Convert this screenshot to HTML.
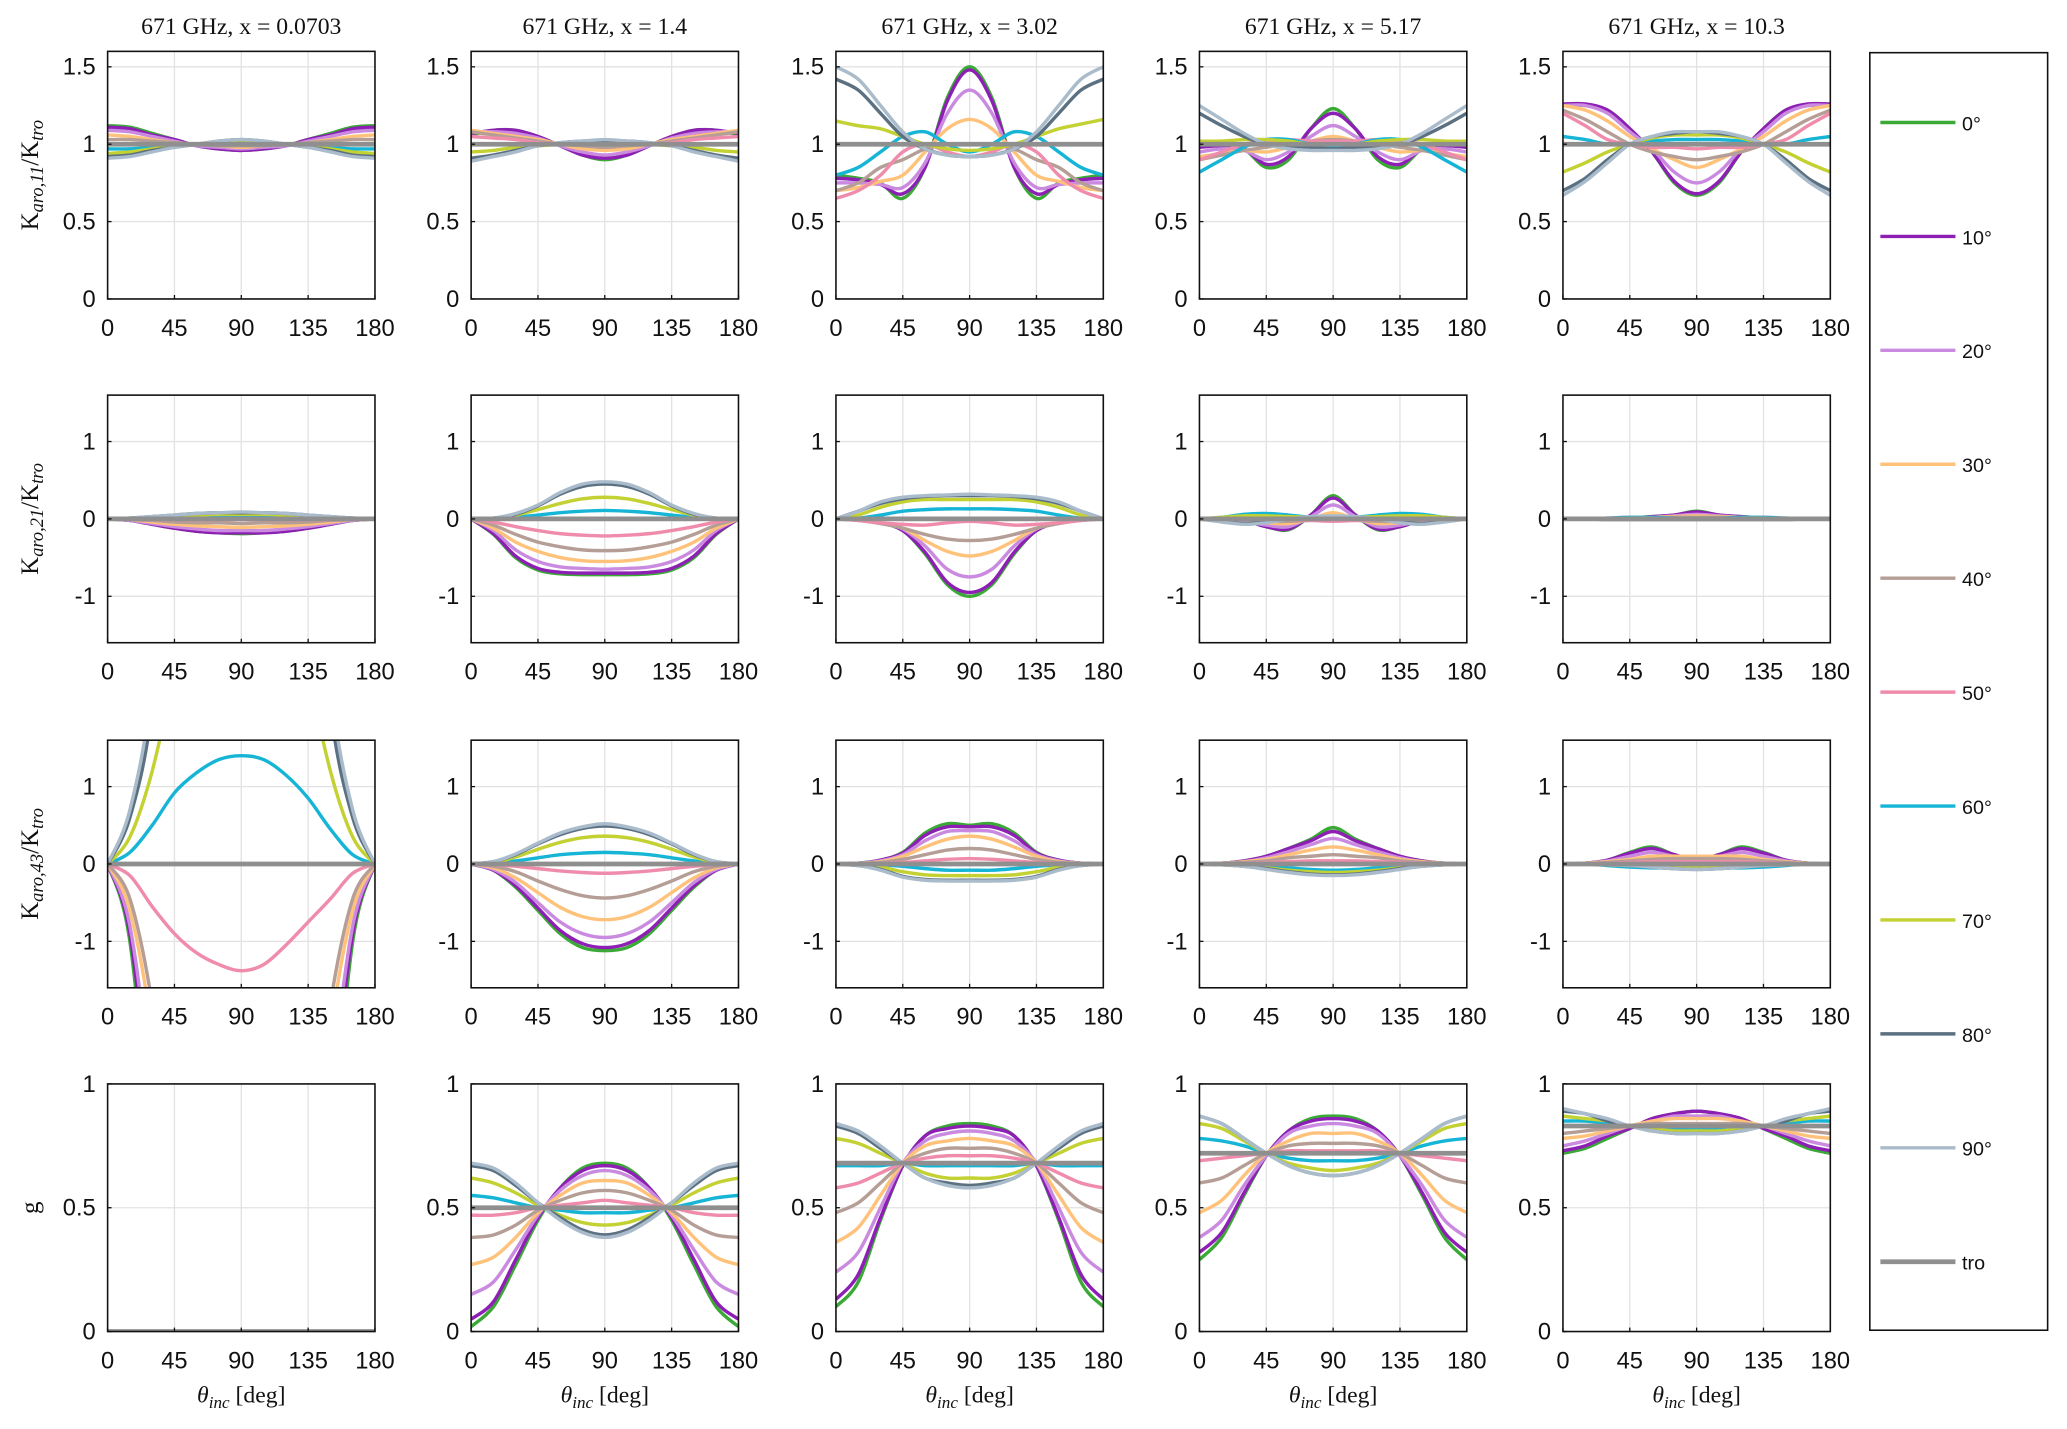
<!DOCTYPE html>
<html><head><meta charset="utf-8">
<style>
html,body{margin:0;padding:0;background:#fff;width:2067px;height:1429px;overflow:hidden;}
svg{display:block;}
.tk{font-family:"Liberation Sans",sans-serif;font-size:18px;fill:#111;}
.tt{font-family:"Liberation Serif",serif;font-size:18px;fill:#111;}
.yt{font-family:"Liberation Serif",serif;font-size:19px;fill:#111;}
.lg{font-family:"Liberation Sans",sans-serif;font-size:15px;fill:#111;}
</style></head>
<body>
<svg id="fig" width="2067" height="1429" viewBox="0 0 1568 1085" xmlns="http://www.w3.org/2000/svg"></svg>
<script>
const thetaDeg=[0,15,30,45,60,75,90,105,120,135,150,165,180];
const seriesNames=["0°","10°","20°","30°","40°","50°","60°","70°","80°","90°","tro"];
const seriesColors=["#3aa935","#8e1fb5","#c98ae0","#ffc27a","#b59e96","#f08cab","#16b5d6","#c3d132","#5b7182","#aabccb","#8f8f8f"];
const colTitles=["671 GHz, x = 0.0703","671 GHz, x = 1.4","671 GHz, x = 3.02","671 GHz, x = 5.17","671 GHz, x = 10.3"];
const rowYTicks=[[0,0.5,1,1.5],[-1,0,1],[-1,0,1],[0,0.5,1]];
const rowYTickLabels=[["0","0.5","1","1.5"],["-1","0","1"],["-1","0","1"],["0","0.5","1"]];
const rowYLim=[[0,1.6],[-1.6,1.6],[-1.6,1.6],[0,1]];
const xTicks=[0,45,90,135,180];
const T1=[1,1,1,1,1,1,1,1,1,1,1,1,1];
const T0=[0,0,0,0,0,0,0,0,0,0,0,0,0];

const r1c1=[
[1.12,1.11,1.07,1.03,0.99,0.97,0.96,0.97,0.99,1.03,1.07,1.11,1.12],
[1.11,1.10,1.06,1.03,0.99,0.97,0.96,0.97,0.99,1.03,1.06,1.10,1.11],
[1.09,1.08,1.05,1.02,0.99,0.98,0.97,0.98,0.99,1.02,1.05,1.08,1.09],
[1.06,1.05,1.03,1.01,1.00,0.99,0.98,0.99,1.00,1.01,1.03,1.05,1.06],
[1.03,1.03,1.02,1.01,1.00,0.99,0.99,0.99,1.00,1.01,1.02,1.03,1.03],
[1.00,1.00,1.00,1.00,1.00,1.00,1.00,1.00,1.00,1.00,1.00,1.00,1.00],
[0.97,0.97,0.98,0.99,1.00,1.01,1.01,1.01,1.00,0.99,0.98,0.97,0.97],
[0.94,0.95,0.97,0.99,1.00,1.01,1.02,1.01,1.00,0.99,0.97,0.95,0.94],
[0.92,0.93,0.96,0.98,1.00,1.02,1.03,1.02,1.00,0.98,0.96,0.93,0.92],
[0.91,0.92,0.95,0.98,1.00,1.02,1.03,1.02,1.00,0.98,0.95,0.92,0.91],
T1];
const r1c2=[
[1.06,1.09,1.09,1.05,0.99,0.93,0.90,0.93,0.99,1.05,1.09,1.09,1.06],
[1.07,1.09,1.09,1.05,0.99,0.93,0.91,0.93,0.99,1.05,1.09,1.09,1.07],
[1.08,1.08,1.07,1.04,0.99,0.95,0.93,0.95,0.99,1.04,1.07,1.08,1.08],
[1.09,1.07,1.05,1.03,1.00,0.97,0.96,0.97,1.00,1.03,1.05,1.07,1.09],
[1.08,1.06,1.04,1.02,1.00,0.99,0.98,0.99,1.00,1.02,1.04,1.06,1.08],
[1.05,1.04,1.03,1.01,1.00,1.00,1.00,1.00,1.00,1.01,1.03,1.04,1.05],
[1.00,1.00,1.00,1.00,1.00,1.01,1.01,1.01,1.00,1.00,1.00,1.00,1.00],
[0.95,0.96,0.98,0.99,1.00,1.01,1.02,1.01,1.00,0.99,0.98,0.96,0.95],
[0.91,0.93,0.96,0.99,1.01,1.02,1.02,1.02,1.01,0.99,0.96,0.93,0.91],
[0.89,0.92,0.95,0.99,1.01,1.02,1.03,1.02,1.01,0.99,0.95,0.92,0.89],
T1];
const r1c3=[
[0.80,0.78,0.75,0.65,0.85,1.30,1.50,1.30,0.85,0.65,0.75,0.78,0.80],
[0.78,0.77,0.74,0.68,0.85,1.28,1.48,1.28,0.85,0.68,0.74,0.77,0.78],
[0.75,0.75,0.74,0.72,0.88,1.20,1.35,1.20,0.88,0.72,0.74,0.75,0.75],
[0.70,0.72,0.76,0.80,0.95,1.10,1.16,1.10,0.95,0.80,0.76,0.72,0.70],
[0.70,0.75,0.85,0.90,0.97,1.00,1.00,1.00,0.97,0.90,0.85,0.75,0.70],
[0.65,0.70,0.80,0.95,1.00,0.95,0.92,0.95,1.00,0.95,0.80,0.70,0.65],
[0.80,0.85,0.95,1.05,1.08,1.00,0.95,1.00,1.08,1.05,0.95,0.85,0.80],
[1.15,1.12,1.10,1.05,1.00,0.97,0.96,0.97,1.00,1.05,1.10,1.13,1.16],
[1.42,1.35,1.20,1.05,0.97,0.93,0.92,0.93,0.97,1.05,1.20,1.35,1.42],
[1.50,1.42,1.25,1.08,0.97,0.93,0.92,0.93,0.97,1.08,1.25,1.42,1.50],
T1];
const r1c4=[
[1.00,1.00,0.97,0.85,0.90,1.10,1.23,1.10,0.90,0.85,0.97,1.00,1.00],
[0.98,0.99,0.97,0.87,0.92,1.10,1.20,1.10,0.92,0.87,0.97,0.99,0.98],
[0.95,0.97,0.96,0.90,0.95,1.05,1.12,1.05,0.95,0.90,0.96,0.97,0.95],
[0.92,0.94,0.96,0.95,0.98,1.02,1.05,1.02,0.98,0.95,0.96,0.94,0.92],
[0.90,0.93,0.96,0.98,1.00,1.02,1.03,1.02,1.00,0.98,0.96,0.93,0.90],
[0.90,0.95,1.00,1.02,1.03,1.02,1.02,1.02,1.03,1.02,1.00,0.95,0.90],
[0.82,0.90,0.98,1.03,1.03,1.00,0.98,1.00,1.03,1.03,0.98,0.90,0.82],
[1.02,1.02,1.03,1.03,1.02,1.00,1.00,1.00,1.02,1.03,1.03,1.02,1.02],
[1.20,1.12,1.05,1.00,0.98,0.98,0.97,0.98,0.98,1.00,1.05,1.12,1.20],
[1.25,1.16,1.07,1.00,0.97,0.96,0.96,0.96,0.97,1.00,1.07,1.16,1.25],
T1];
const r1c5=[
[1.25,1.25,1.22,1.10,0.95,0.75,0.67,0.75,0.95,1.10,1.22,1.25,1.25],
[1.26,1.26,1.22,1.10,0.95,0.76,0.68,0.76,0.95,1.10,1.22,1.26,1.26],
[1.25,1.25,1.20,1.08,0.97,0.82,0.75,0.82,0.97,1.08,1.20,1.25,1.25],
[1.25,1.22,1.15,1.05,0.97,0.90,0.85,0.90,0.97,1.05,1.15,1.22,1.25],
[1.22,1.16,1.08,1.00,0.95,0.92,0.90,0.92,0.95,1.00,1.08,1.16,1.22],
[1.20,1.12,1.03,1.00,0.98,0.98,0.97,0.98,0.98,1.00,1.03,1.12,1.20],
[1.05,1.03,1.00,1.00,1.02,1.03,1.03,1.03,1.02,1.00,1.00,1.03,1.05],
[0.82,0.88,0.95,1.00,1.04,1.06,1.06,1.06,1.04,1.00,0.95,0.88,0.82],
[0.70,0.78,0.90,1.00,1.05,1.07,1.08,1.07,1.05,1.00,0.90,0.78,0.70],
[0.67,0.76,0.88,1.00,1.05,1.08,1.08,1.08,1.05,1.00,0.88,0.76,0.67],
T1];
const r2c1=[
[0,-0.02,-0.07,-0.12,-0.16,-0.18,-0.19,-0.18,-0.16,-0.12,-0.07,-0.02,0],
[0,-0.02,-0.07,-0.12,-0.16,-0.18,-0.18,-0.18,-0.16,-0.12,-0.07,-0.02,0],
[0,-0.02,-0.06,-0.10,-0.13,-0.15,-0.15,-0.15,-0.13,-0.10,-0.06,-0.02,0],
[0,-0.01,-0.04,-0.07,-0.09,-0.10,-0.11,-0.10,-0.09,-0.07,-0.04,-0.01,0],
[0,-0.01,-0.02,-0.04,-0.05,-0.05,-0.06,-0.05,-0.05,-0.04,-0.02,-0.01,0],
[0,0,-0.01,-0.01,-0.01,-0.01,-0.01,-0.01,-0.01,-0.01,-0.01,0,0],
[0,0,0.01,0.02,0.02,0.03,0.03,0.03,0.02,0.02,0.01,0,0],
[0,0.01,0.02,0.04,0.05,0.06,0.06,0.06,0.05,0.04,0.02,0.01,0],
[0,0.01,0.03,0.05,0.07,0.08,0.08,0.08,0.07,0.05,0.03,0.01,0],
[0,0.01,0.03,0.05,0.07,0.08,0.09,0.08,0.07,0.05,0.03,0.01,0],
T0];
const r2c2=[
[0,-0.20,-0.50,-0.66,-0.71,-0.72,-0.72,-0.72,-0.71,-0.66,-0.50,-0.20,0],
[0,-0.19,-0.48,-0.64,-0.69,-0.70,-0.70,-0.70,-0.69,-0.64,-0.48,-0.19,0],
[0,-0.15,-0.40,-0.55,-0.62,-0.64,-0.65,-0.64,-0.62,-0.55,-0.40,-0.15,0],
[0,-0.12,-0.30,-0.42,-0.50,-0.54,-0.55,-0.54,-0.50,-0.42,-0.30,-0.12,0],
[0,-0.08,-0.20,-0.30,-0.36,-0.40,-0.41,-0.40,-0.36,-0.30,-0.20,-0.08,0],
[0,-0.04,-0.10,-0.15,-0.19,-0.21,-0.22,-0.21,-0.19,-0.15,-0.10,-0.04,0],
[0,0,0.02,0.05,0.08,0.10,0.11,0.10,0.08,0.05,0.02,0,0],
[0,0.01,0.05,0.12,0.20,0.26,0.28,0.26,0.20,0.12,0.05,0.01,0],
[0,0.01,0.06,0.17,0.32,0.42,0.45,0.42,0.32,0.17,0.06,0.01,0],
[0,0.01,0.07,0.18,0.34,0.45,0.48,0.45,0.34,0.18,0.07,0.01,0],
T0];
const r2c3=[
[0,-0.01,-0.05,-0.15,-0.45,-0.85,-1.00,-0.85,-0.45,-0.15,-0.05,-0.01,0],
[0,-0.01,-0.05,-0.15,-0.43,-0.82,-0.95,-0.82,-0.43,-0.15,-0.05,-0.01,0],
[0,-0.01,-0.05,-0.13,-0.35,-0.65,-0.75,-0.65,-0.35,-0.13,-0.05,-0.01,0],
[0,-0.01,-0.05,-0.12,-0.28,-0.42,-0.48,-0.42,-0.28,-0.12,-0.05,-0.01,0],
[0,-0.02,-0.06,-0.12,-0.20,-0.26,-0.28,-0.26,-0.20,-0.12,-0.06,-0.02,0],
[0,-0.02,-0.05,-0.07,-0.08,-0.05,-0.03,-0.05,-0.08,-0.07,-0.05,-0.02,0],
[0,0.01,0.05,0.10,0.12,0.13,0.13,0.13,0.12,0.10,0.05,0.01,0],
[0,0.05,0.15,0.22,0.25,0.25,0.25,0.25,0.25,0.22,0.15,0.05,0],
[0,0.10,0.20,0.26,0.29,0.30,0.30,0.30,0.29,0.26,0.20,0.10,0],
[0,0.10,0.22,0.28,0.30,0.31,0.32,0.31,0.30,0.28,0.22,0.10,0],
T0];
const r2c4=[
[0,0,-0.02,-0.10,-0.14,0.05,0.30,0.05,-0.14,-0.10,-0.02,0,0],
[0,0,-0.02,-0.10,-0.13,0.05,0.27,0.05,-0.13,-0.10,-0.02,0,0],
[0,0,-0.02,-0.08,-0.10,0.03,0.18,0.03,-0.10,-0.08,-0.02,0,0],
[0,0,-0.01,-0.05,-0.06,0,0.08,0,-0.06,-0.05,-0.01,0,0],
[0,0,-0.01,-0.03,-0.03,-0.02,0,-0.02,-0.03,-0.03,-0.01,0,0],
[0,0,0,0,-0.01,-0.02,-0.03,-0.02,-0.01,0,0,0,0],
[0,0.02,0.06,0.07,0.05,0.02,0,0.02,0.05,0.07,0.06,0.02,0],
[0,0.02,0.04,0.04,0.03,0.02,0.02,0.02,0.03,0.04,0.04,0.02,0],
[0,-0.03,-0.06,-0.04,0,0.02,0.03,0.02,0,-0.04,-0.06,-0.03,0],
[0,-0.04,-0.07,-0.05,0,0.03,0.04,0.03,0,-0.05,-0.07,-0.04,0],
T0];
const r2c5=[
[0,0,0,0.01,0.03,0.05,0.10,0.05,0.03,0.01,0,0,0],
[0,0,0,0.01,0.03,0.05,0.09,0.05,0.03,0.01,0,0,0],
[0,0,0,0.01,0.02,0.04,0.06,0.04,0.02,0.01,0,0,0],
[0,0,0,0.01,0.02,0.03,0.04,0.03,0.02,0.01,0,0,0],
[0,0,0,0,0.01,0.02,0.02,0.02,0.01,0,0,0,0],
[0,0,0.01,0.02,0.02,0.01,0,0.01,0.02,0.02,0.01,0,0],
[0,0,0.01,0.02,0.02,0.01,0,0.01,0.02,0.02,0.01,0,0],
[0,0,0,0.01,0.01,0,-0.01,0,0.01,0.01,0,0,0],
[0,0,-0.01,-0.01,-0.01,-0.01,-0.01,-0.01,-0.01,-0.01,-0.01,0,0],
[0,0,-0.01,-0.01,-0.01,-0.01,-0.01,-0.01,-0.01,-0.01,-0.01,0,0],
T0];
const r3c1=[
[0,-1.0,-4.0,-8.0,-10,-11,-11,-11,-10,-8.0,-4.0,-1.0,0],
[0,-0.9,-3.5,-7.0,-9,-10,-10,-10,-9,-7.0,-3.5,-0.9,0],
[0,-0.8,-3.0,-6.0,-8,-9,-9,-9,-8,-6.0,-3.0,-0.8,0],
[0,-0.6,-2.2,-5.0,-7,-8,-8,-8,-7,-5.0,-2.2,-0.6,0],
[0,-0.45,-1.8,-4.0,-6,-7,-7,-7,-6,-4.0,-1.8,-0.45,0],
[0,-0.15,-0.55,-0.9,-1.15,-1.3,-1.38,-1.3,-1.05,-0.75,-0.45,-0.12,0],
[0,0.15,0.5,0.92,1.18,1.35,1.4,1.35,1.15,0.85,0.45,0.12,0],
[0,0.35,1.2,2.5,4,5,5,5,4,2.5,1.2,0.35,0],
[0,0.6,2.0,5.0,7,8,8,8,7,5.0,2.0,0.6,0],
[0,0.7,2.3,5.5,8,9,9,9,8,5.5,2.3,0.7,0],
T0];
const r3c2=[
[0,-0.08,-0.30,-0.60,-0.90,-1.08,-1.12,-1.08,-0.90,-0.60,-0.30,-0.08,0],
[0,-0.08,-0.28,-0.57,-0.86,-1.03,-1.08,-1.03,-0.86,-0.57,-0.28,-0.08,0],
[0,-0.07,-0.24,-0.50,-0.75,-0.90,-0.95,-0.90,-0.75,-0.50,-0.24,-0.07,0],
[0,-0.05,-0.18,-0.37,-0.56,-0.68,-0.72,-0.68,-0.56,-0.37,-0.18,-0.05,0],
[0,-0.03,-0.10,-0.22,-0.33,-0.41,-0.44,-0.41,-0.33,-0.22,-0.10,-0.03,0],
[0,-0.01,-0.03,-0.06,-0.09,-0.11,-0.12,-0.11,-0.09,-0.06,-0.03,-0.01,0],
[0,0.01,0.04,0.08,0.12,0.14,0.15,0.14,0.12,0.08,0.04,0.01,0],
[0,0.02,0.09,0.19,0.28,0.34,0.36,0.34,0.28,0.19,0.09,0.02,0],
[0,0.03,0.12,0.26,0.38,0.46,0.49,0.46,0.38,0.26,0.12,0.03,0],
[0,0.03,0.13,0.27,0.40,0.48,0.52,0.48,0.40,0.27,0.13,0.03,0],
T0];
const r3c3=[
[0,0.01,0.05,0.15,0.40,0.52,0.50,0.52,0.40,0.15,0.05,0.01,0],
[0,0.01,0.05,0.14,0.37,0.48,0.48,0.48,0.37,0.14,0.05,0.01,0],
[0,0.01,0.04,0.12,0.30,0.42,0.43,0.42,0.30,0.12,0.04,0.01,0],
[0,0.01,0.03,0.10,0.22,0.32,0.36,0.32,0.22,0.10,0.03,0.01,0],
[0,0.01,0.02,0.06,0.12,0.18,0.20,0.18,0.12,0.06,0.02,0.01,0],
[0,0,0.01,0.02,0.04,0.06,0.07,0.06,0.04,0.02,0.01,0,0],
[0,0,-0.01,-0.03,-0.06,-0.08,-0.08,-0.08,-0.06,-0.03,-0.01,0,0],
[0,-0.01,-0.04,-0.10,-0.14,-0.15,-0.15,-0.15,-0.14,-0.10,-0.04,-0.01,0],
[0,-0.02,-0.07,-0.16,-0.20,-0.21,-0.21,-0.21,-0.20,-0.16,-0.07,-0.02,0],
[0,-0.02,-0.08,-0.17,-0.21,-0.22,-0.22,-0.22,-0.21,-0.17,-0.08,-0.02,0],
T0];
const r3c4=[
[0,0.01,0.04,0.10,0.20,0.32,0.47,0.32,0.20,0.10,0.04,0.01,0],
[0,0.01,0.04,0.10,0.20,0.30,0.42,0.30,0.20,0.10,0.04,0.01,0],
[0,0.01,0.03,0.08,0.16,0.25,0.33,0.25,0.16,0.08,0.03,0.01,0],
[0,0.01,0.03,0.06,0.12,0.18,0.22,0.18,0.12,0.06,0.03,0.01,0],
[0,0.01,0.02,0.04,0.08,0.10,0.12,0.10,0.08,0.04,0.02,0.01,0],
[0,0,0.01,0.02,0.03,0.04,0.04,0.04,0.03,0.02,0.01,0,0],
[0,0,-0.01,-0.03,-0.05,-0.07,-0.08,-0.07,-0.05,-0.03,-0.01,0,0],
[0,0,-0.02,-0.05,-0.08,-0.10,-0.11,-0.10,-0.08,-0.05,-0.02,0,0],
[0,-0.01,-0.03,-0.06,-0.10,-0.13,-0.14,-0.13,-0.10,-0.06,-0.03,-0.01,0],
[0,-0.01,-0.03,-0.07,-0.11,-0.14,-0.15,-0.14,-0.11,-0.07,-0.03,-0.01,0],
T0];
const r3c5=[
[0,0.01,0.05,0.15,0.22,0.12,0.05,0.12,0.22,0.15,0.05,0.01,0],
[0,0.01,0.05,0.14,0.20,0.12,0.06,0.12,0.20,0.14,0.05,0.01,0],
[0,0.01,0.04,0.10,0.15,0.10,0.07,0.10,0.15,0.10,0.04,0.01,0],
[0,0.01,0.03,0.06,0.10,0.10,0.10,0.10,0.10,0.06,0.03,0.01,0],
[0,0,0.02,0.04,0.06,0.07,0.07,0.07,0.06,0.04,0.02,0,0],
[0,0,0.01,0.02,0.03,0.03,0.03,0.03,0.03,0.02,0.01,0,0],
[0,0,-0.02,-0.04,-0.05,-0.05,-0.05,-0.05,-0.05,-0.04,-0.02,0,0],
[0,0,-0.01,-0.02,-0.03,-0.04,-0.04,-0.04,-0.03,-0.02,-0.01,0,0],
[0,0,-0.01,-0.02,-0.04,-0.06,-0.07,-0.06,-0.04,-0.02,-0.01,0,0],
[0,0,-0.01,-0.02,-0.04,-0.06,-0.07,-0.06,-0.04,-0.02,-0.01,0,0],
T0];
const r4c1=[T0,T0,T0,T0,T0,T0,T0,T0,T0,T0,T0];
const r4c2=[
[0.02,0.10,0.27,0.45,0.58,0.66,0.68,0.66,0.58,0.45,0.27,0.10,0.02],
[0.05,0.12,0.29,0.46,0.58,0.65,0.67,0.65,0.58,0.46,0.29,0.12,0.05],
[0.15,0.20,0.33,0.47,0.57,0.63,0.65,0.63,0.57,0.47,0.33,0.20,0.15],
[0.27,0.30,0.38,0.48,0.55,0.60,0.61,0.60,0.55,0.48,0.38,0.30,0.27],
[0.38,0.39,0.43,0.49,0.53,0.56,0.57,0.56,0.53,0.49,0.43,0.39,0.38],
[0.47,0.47,0.48,0.50,0.51,0.52,0.53,0.52,0.51,0.50,0.48,0.47,0.47],
[0.55,0.54,0.52,0.50,0.49,0.48,0.48,0.48,0.49,0.50,0.52,0.54,0.55],
[0.62,0.60,0.56,0.51,0.47,0.44,0.43,0.44,0.47,0.51,0.56,0.60,0.62],
[0.67,0.65,0.59,0.52,0.46,0.41,0.39,0.41,0.46,0.52,0.59,0.65,0.67],
[0.68,0.66,0.60,0.52,0.45,0.40,0.38,0.40,0.45,0.52,0.60,0.66,0.68],
[0.5,0.5,0.5,0.5,0.5,0.5,0.5,0.5,0.5,0.5,0.5,0.5,0.5]];
const r4c3=[
[0.10,0.20,0.45,0.67,0.79,0.83,0.84,0.83,0.79,0.67,0.45,0.20,0.10],
[0.13,0.23,0.46,0.67,0.79,0.82,0.83,0.82,0.79,0.67,0.46,0.23,0.13],
[0.24,0.32,0.50,0.68,0.77,0.80,0.81,0.80,0.77,0.68,0.50,0.32,0.24],
[0.36,0.42,0.55,0.68,0.75,0.77,0.78,0.77,0.75,0.68,0.55,0.42,0.36],
[0.48,0.52,0.60,0.68,0.72,0.74,0.74,0.74,0.72,0.68,0.60,0.52,0.48],
[0.58,0.60,0.64,0.68,0.70,0.71,0.71,0.71,0.70,0.68,0.64,0.60,0.58],
[0.67,0.67,0.67,0.68,0.67,0.67,0.67,0.67,0.67,0.68,0.67,0.67,0.67],
[0.78,0.76,0.72,0.68,0.64,0.62,0.62,0.62,0.64,0.68,0.72,0.76,0.78],
[0.83,0.80,0.74,0.68,0.62,0.60,0.59,0.60,0.62,0.68,0.74,0.80,0.83],
[0.84,0.81,0.75,0.68,0.62,0.59,0.58,0.59,0.62,0.68,0.75,0.81,0.84],
[0.68,0.68,0.68,0.68,0.68,0.68,0.68,0.68,0.68,0.68,0.68,0.68,0.68]];
const r4c4=[
[0.29,0.38,0.55,0.71,0.81,0.86,0.87,0.86,0.81,0.71,0.55,0.38,0.29],
[0.32,0.40,0.56,0.71,0.81,0.85,0.86,0.85,0.81,0.71,0.56,0.40,0.32],
[0.38,0.45,0.59,0.71,0.80,0.83,0.84,0.83,0.80,0.71,0.59,0.45,0.38],
[0.48,0.53,0.63,0.72,0.77,0.80,0.80,0.80,0.77,0.72,0.63,0.53,0.48],
[0.60,0.62,0.67,0.72,0.75,0.76,0.76,0.76,0.75,0.72,0.67,0.62,0.60],
[0.69,0.70,0.71,0.72,0.73,0.73,0.73,0.73,0.73,0.72,0.71,0.70,0.69],
[0.78,0.77,0.75,0.72,0.70,0.69,0.69,0.69,0.70,0.72,0.75,0.77,0.78],
[0.84,0.82,0.77,0.72,0.68,0.66,0.65,0.66,0.68,0.72,0.77,0.82,0.84],
[0.87,0.84,0.78,0.72,0.67,0.64,0.63,0.64,0.67,0.72,0.78,0.84,0.87],
[0.87,0.84,0.78,0.72,0.67,0.64,0.63,0.64,0.67,0.72,0.78,0.84,0.87],
[0.72,0.72,0.72,0.72,0.72,0.72,0.72,0.72,0.72,0.72,0.72,0.72,0.72]];
const r4c5=[
[0.72,0.74,0.78,0.82,0.86,0.88,0.89,0.88,0.86,0.82,0.78,0.74,0.72],
[0.73,0.75,0.79,0.82,0.86,0.88,0.89,0.88,0.86,0.82,0.79,0.75,0.73],
[0.75,0.77,0.80,0.83,0.85,0.87,0.87,0.87,0.85,0.83,0.80,0.77,0.75],
[0.78,0.79,0.81,0.83,0.85,0.86,0.86,0.86,0.85,0.83,0.81,0.79,0.78],
[0.80,0.81,0.82,0.83,0.84,0.84,0.84,0.84,0.84,0.83,0.82,0.81,0.80],
[0.83,0.83,0.83,0.83,0.83,0.83,0.83,0.83,0.83,0.83,0.83,0.83,0.83],
[0.85,0.85,0.84,0.83,0.82,0.82,0.82,0.82,0.82,0.83,0.84,0.85,0.85],
[0.87,0.86,0.85,0.83,0.82,0.81,0.81,0.81,0.82,0.83,0.85,0.86,0.87],
[0.89,0.88,0.85,0.83,0.81,0.80,0.80,0.80,0.81,0.83,0.85,0.88,0.89],
[0.90,0.88,0.86,0.83,0.81,0.80,0.80,0.80,0.81,0.83,0.86,0.88,0.90],
[0.83,0.83,0.83,0.83,0.83,0.83,0.83,0.83,0.83,0.83,0.83,0.83,0.83]];
const panels=[[r1c1,r1c2,r1c3,r1c4,r1c5],[r2c1,r2c2,r2c3,r2c4,r2c5],[r3c1,r3c2,r3c3,r3c4,r3c5],[r4c1,r4c2,r4c3,r4c4,r4c5]];

const NS="http://www.w3.org/2000/svg";
const svg=document.getElementById('fig');
const colX=[81,357,634,910,1186], PW=203;
const rowY=[39,300,562,823], PH=188;
function mk(tag,attrs,parent){const e=document.createElementNS(NS,tag);for(const k in attrs)e.setAttribute(k,attrs[k]);(parent||svg).appendChild(e);return e;}
function pathD(pts){let d="M"+pts[0][0].toFixed(2)+","+pts[0][1].toFixed(2);
 for(let i=0;i<pts.length-1;i++){const p0=pts[i-1]||pts[i],p1=pts[i],p2=pts[i+1],p3=pts[i+2]||p2;
  const c1=[p1[0]+(p2[0]-p0[0])/6,p1[1]+(p2[1]-p0[1])/6],c2=[p2[0]-(p3[0]-p1[0])/6,p2[1]-(p3[1]-p1[1])/6];
  d+=" C"+c1[0].toFixed(2)+","+c1[1].toFixed(2)+" "+c2[0].toFixed(2)+","+c2[1].toFixed(2)+" "+p2[0].toFixed(2)+","+p2[1].toFixed(2);}
 return d;}
const yLabelMain=["aro,11","aro,21","aro,43",null];
for(let r=0;r<4;r++){for(let c=0;c<5;c++){
 const x0=colX[c],y0=rowY[r];const [ymin,ymax]=rowYLim[r];
 const sx=v=>x0+v/180*PW, sy=v=>y0+PH-(v-ymin)/(ymax-ymin)*PH;
 const g=mk('g',{});
 
 
 const cid='clip'+r+c;const cp=mk('clipPath',{id:cid},g);mk('rect',{x:x0,y:y0,width:PW,height:PH},cp);
 mk('rect',{x:x0,y:y0,width:PW,height:PH,fill:'#fff'},g);
 xTicks.forEach(t=>{if(t>0&&t<180)mk('line',{x1:sx(t),x2:sx(t),y1:y0,y2:y0+PH,stroke:'#e2e2e2','stroke-width':1},g);});
 rowYTicks[r].forEach(t=>{mk('line',{x1:x0,x2:x0+PW,y1:sy(t),y2:sy(t),stroke:'#e2e2e2','stroke-width':1},g);});
 const lg=mk('g',{'clip-path':'url(#'+cid+')'},g);
 const data=panels[r][c];
 data.forEach((vals,si)=>{
  const pts=thetaDeg.map((t,i)=>[sx(t),sy(vals[i])]);
  const p=mk('path',{d:pathD(pts),fill:'none',stroke:seriesColors[si],'stroke-width':si===10?3.6:2.6,'stroke-linejoin':'round'},lg);
  
  
 });
 mk('rect',{x:x0,y:y0,width:PW,height:PH,fill:'none',stroke:'#111','stroke-width':1.2},g);
 xTicks.forEach(t=>{mk('line',{x1:sx(t),x2:sx(t),y1:y0+PH,y2:y0+PH-3,stroke:'#111'},g);
  const tx=mk('text',{x:sx(t),y:y0+PH+28,'text-anchor':'middle',class:'tk'},g);tx.textContent=String(t);
  
  });
 rowYTicks[r].forEach((t,i)=>{mk('line',{x1:x0,x2:x0+3,y1:sy(t),y2:sy(t),stroke:'#111'},g);
  const tx=mk('text',{x:x0-9,y:sy(t)+6,'text-anchor':'end',class:'tk'},g);tx.textContent=rowYTickLabels[r][i];
  
  });
 if(r===0){const tt=mk('text',{x:x0+PW/2,y:26,'text-anchor':'middle',class:'tt'},g);tt.textContent=colTitles[c];
  
  }
 if(r===3){const xl=mk('text',{x:x0+PW/2,y:1065,'text-anchor':'middle',class:'tt'},g);
  xl.innerHTML='<tspan font-style="italic">θ</tspan><tspan font-style="italic" font-size="13" dy="4">inc</tspan><tspan dy="-4"> [deg]</tspan>';
  
  }
 if(c===0){const cy=y0+PH/2;const yl=mk('text',{x:0,y:0,'text-anchor':'middle',class:'yt',transform:'translate(28,'+cy+') rotate(-90)'},g);
  if(yLabelMain[r]) yl.innerHTML='K<tspan font-style="italic" font-size="14" dy="4">'+yLabelMain[r]+'</tspan><tspan dy="-4">/K</tspan><tspan font-style="italic" font-size="14" dy="4">tro</tspan>';
  else yl.textContent='g';
  
  }
}}
const lgG=mk('g',{});


mk('rect',{x:1419,y:40,width:135,height:970,fill:'#fff',stroke:'#111','stroke-width':1.2},lgG);
seriesNames.forEach((n,i)=>{const y=93+i*86.5;
 const e=mk('g',{},lgG);
 
 
 mk('line',{x1:1427,x2:1484,y1:y,y2:y,stroke:seriesColors[i],'stroke-width':i===10?3.6:2.6},e);
 const t=mk('text',{x:1489,y:y+6,class:'lg'},e);t.textContent=n;});
</script>
</body></html>
